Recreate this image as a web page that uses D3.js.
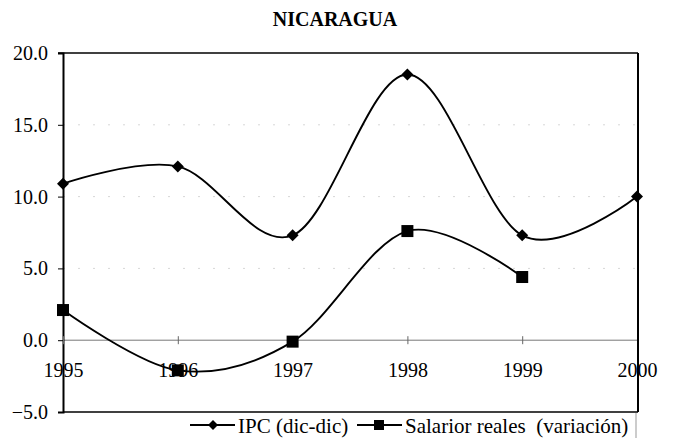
<!DOCTYPE html>
<html><head><meta charset="utf-8">
<script src="https://cdn.jsdelivr.net/npm/d3@7"></script>
<style>body{margin:0;background:#fff}svg{display:block;font-family:"Liberation Serif","Times New Roman",serif}</style>
</head><body><svg id="c" width="674" height="440"></svg>
<script>
const years = [1995, 1996, 1997, 1998, 1999, 2000];
const ipc = [10.9, 12.1, 7.3, 18.5, 7.3, 10.0];
const salarios = [2.1, -2.1, -0.1, 7.6, 4.4];
const yTicks = [-5, 0, 5, 10, 15, 20];
const title = "NICARAGUA";
const seriesNames = ["IPC (dic-dic)", "Salarior reales  (variación)"];

const svg = d3.select("#c");
const L = 63, R = 637, T = 53, B = 412;
const x = d3.scaleLinear().domain([1995, 2000]).range([L, R]);
const y = d3.scaleLinear().domain([-5, 20]).range([B, T]);

svg.append("text").attr("x", 335).attr("y", 26).attr("text-anchor", "middle")
  .attr("font-weight", "bold").attr("font-size", 20).text(title);

// gridlines
svg.append("g").selectAll("line").data(yTicks.filter(d => d > 0 && d < 20)).join("line")
  .attr("x1", L).attr("x2", R).attr("y1", d => y(d)).attr("y2", d => y(d))
  .attr("stroke", "#bbb").attr("stroke-width", 0.6).attr("stroke-dasharray", "2,13");

// zero line
svg.append("line").attr("x1", L).attr("x2", R).attr("y1", y(0)).attr("y2", y(0))
  .attr("stroke", "#777").attr("stroke-width", 1);

// y axis
const yAxis = d3.axisLeft(y).tickValues(yTicks).tickFormat(d3.format(".1f")).tickSize(5).tickPadding(10);
const gy = svg.append("g").attr("transform", `translate(${L},0)`).call(yAxis);
gy.select(".domain").attr("stroke", "#000").attr("stroke-width", 2);
gy.selectAll(".tick line").attr("stroke", "#000");
gy.selectAll("text").attr("font-size", 20).attr("font-family", "Liberation Serif").attr("fill", "#000");

// x axis at zero
const xAxis = d3.axisBottom(x).tickValues(years).tickFormat(d3.format("d")).tickSize(4).tickPadding(19);
const gx = svg.append("g").attr("transform", `translate(0,${y(0)})`).call(xAxis);
gx.select(".domain").remove();
gx.selectAll(".tick line").attr("stroke", "#666").attr("y1", -4);
gx.selectAll("text").attr("font-size", 20).attr("font-family", "Liberation Serif").attr("fill", "#000");

// frame
svg.append("line").attr("x1", 58).attr("x2", R + 1).attr("y1", T).attr("y2", T).attr("stroke", "#000").attr("stroke-width", 1.5);
svg.append("line").attr("x1", R + 1).attr("x2", R + 1).attr("y1", T).attr("y2", B).attr("stroke", "#000").attr("stroke-width", 2);
svg.append("line").attr("x1", L).attr("x2", R + 1).attr("y1", B).attr("y2", B).attr("stroke", "#000").attr("stroke-width", 1.5);

const line = d3.line().curve(d3.curveCatmullRom.alpha(0)).x(d => x(d[0])).y(d => y(d[1]));
const ipcPts = years.map((yr, i) => [yr, ipc[i]]);
const salPts = salarios.map((v, i) => [years[i], v]);

svg.append("path").attr("d", line(ipcPts)).attr("fill", "none").attr("stroke", "#000").attr("stroke-width", 1.9);
svg.append("path").attr("d", line(salPts)).attr("fill", "none").attr("stroke", "#000").attr("stroke-width", 1.9);

const diamond = (cx, cy, r) => `M${cx},${cy - r}L${cx + r},${cy}L${cx},${cy + r}L${cx - r},${cy}Z`;
svg.append("g").selectAll("path").data(ipcPts).join("path")
  .attr("d", d => diamond(x(d[0]), y(d[1]), 6)).attr("fill", "#000");
svg.append("g").selectAll("rect").data(salPts).join("rect")
  .attr("x", d => x(d[0]) - 6).attr("y", d => y(d[1]) - 6).attr("width", 12).attr("height", 12).attr("fill", "#000");

// legend
const lg = svg.append("g");
lg.append("line").attr("x1", 636).attr("x2", 636).attr("y1", B + 1).attr("y2", 438).attr("stroke", "#999").attr("stroke-width", 1);
const ly = 425;
lg.append("line").attr("x1", 190).attr("x2", 235).attr("y1", ly).attr("y2", ly).attr("stroke", "#000").attr("stroke-width", 1.9);
lg.append("path").attr("d", diamond(213, ly, 5)).attr("fill", "#000");
lg.append("text").attr("x", 238).attr("y", 433).attr("font-size", 21).text(seriesNames[0]);
lg.append("line").attr("x1", 357).attr("x2", 402).attr("y1", ly).attr("y2", ly).attr("stroke", "#000").attr("stroke-width", 1.9);
lg.append("rect").attr("x", 374).attr("y", ly - 5).attr("width", 10).attr("height", 10).attr("fill", "#000");
lg.append("text").attr("x", 405).attr("y", 433).attr("font-size", 21).style("white-space", "pre").text(seriesNames[1]);
</script></body></html>
